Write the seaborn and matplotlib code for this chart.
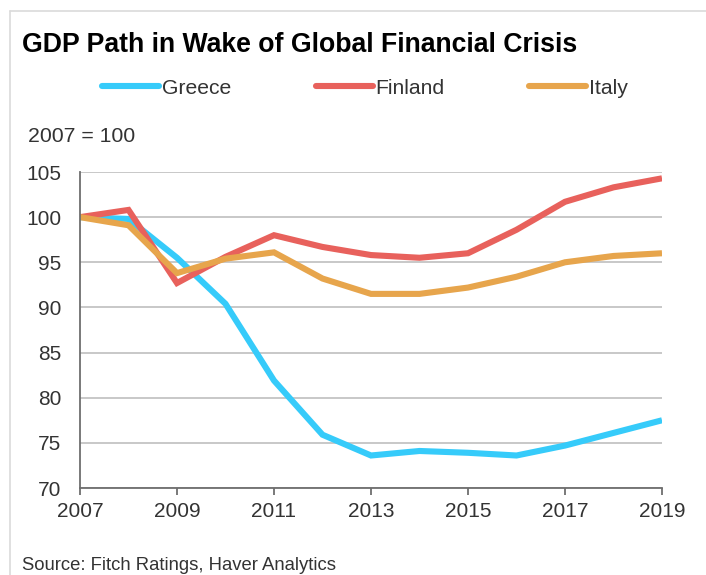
import matplotlib
matplotlib.use("Agg")
import matplotlib.pyplot as plt
from matplotlib.lines import Line2D
import pandas as pd
import seaborn as sns

years = list(range(2007, 2020))
greece = [100.0, 99.8, 95.5, 90.4, 81.9, 75.9, 73.6, 74.1, 73.9, 73.6, 74.7, 76.1, 77.5]
finland = [100.0, 100.8, 92.7, 95.6, 98.0, 96.7, 95.8, 95.5, 96.0, 98.6, 101.7, 103.3, 104.3]
italy = [100.0, 99.1, 93.8, 95.4, 96.1, 93.2, 91.5, 91.5, 92.2, 93.4, 95.0, 95.7, 96.0]
countries = ["Greece", "Finland", "Italy"]
colors = ["#36CBFA", "#E8615C", "#E7A54C"]
x_ticks = [2007, 2009, 2011, 2013, 2015, 2017, 2019]
y_ticks = [70, 75, 80, 85, 90, 95, 100, 105]

df = pd.DataFrame({
    "Year": years * 3,
    "GDP": greece + finland + italy,
    "Country": [c for c in countries for _ in years],
})

sns.set_theme(style="white")
plt.rcParams["font.family"] = ["Liberation Sans", "DejaVu Sans"]

fig = plt.figure(figsize=(7.06, 5.75), dpi=100)
ax = fig.add_axes([80 / 706, 1 - 488 / 575, 582 / 706, 316 / 575])

sns.lineplot(data=df, x="Year", y="GDP", hue="Country", hue_order=countries,
             palette=colors, linewidth=4.4, legend=False, ax=ax,
             solid_joinstyle="miter", solid_capstyle="butt")

ax.set_xlim(2007, 2019)
ax.set_ylim(70, 105)
ax.set_xticks(x_ticks)
ax.set_yticks(y_ticks)
ax.set_xlabel("")
ax.set_ylabel("")
ax.yaxis.grid(True, color="#C8C8C8", linewidth=1.4)
ax.set_axisbelow(True)
for side in ("top", "right"):
    ax.spines[side].set_visible(False)
for side in ("left", "bottom"):
    ax.spines[side].set_color("#6E6E6E")
    ax.spines[side].set_linewidth(1.3)
ax.tick_params(axis="y", length=0, pad=13.5, labelsize=15, labelcolor="#333333")
ax.tick_params(axis="x", bottom=True, length=5, width=1.3, color="#6E6E6E",
               pad=5, labelsize=15, labelcolor="#333333")

handles = [Line2D([], [], color=c, linewidth=4.4, solid_capstyle="round")
           for c in colors]
fig.legend(handles, countries, loc="center", bbox_to_anchor=(365 / 706, 1 - 88 / 575),
           ncol=3, frameon=False, fontsize=15.2, handlelength=2.7, handletextpad=0.15,
           columnspacing=4.0, labelcolor="#333333")

fig.text(22 / 706, 1 - 45 / 575, "GDP Path in Wake of Global Financial Crisis",
         fontsize=19.2, fontweight="bold", color="black", ha="left", va="center")
fig.text(28 / 706, 1 - 137 / 575, "2007 = 100", fontsize=15.3, color="#333333",
         ha="left", va="center")
fig.text(22 / 706, 1 - 565 / 575, "Source: Fitch Ratings, Haver Analytics",
         fontsize=13.3, color="#333333", ha="left", va="center")

# light frame along the left and top of the panel
fig.add_artist(Line2D([10 / 706, 10 / 706], [0, 1 - 11 / 575], color="#DADADA",
                      linewidth=1.2, transform=fig.transFigure))
fig.add_artist(Line2D([10 / 706, 1], [1 - 11 / 575, 1 - 11 / 575], color="#DADADA",
                      linewidth=1.2, transform=fig.transFigure))

fig.savefig("out.png", dpi=100)
